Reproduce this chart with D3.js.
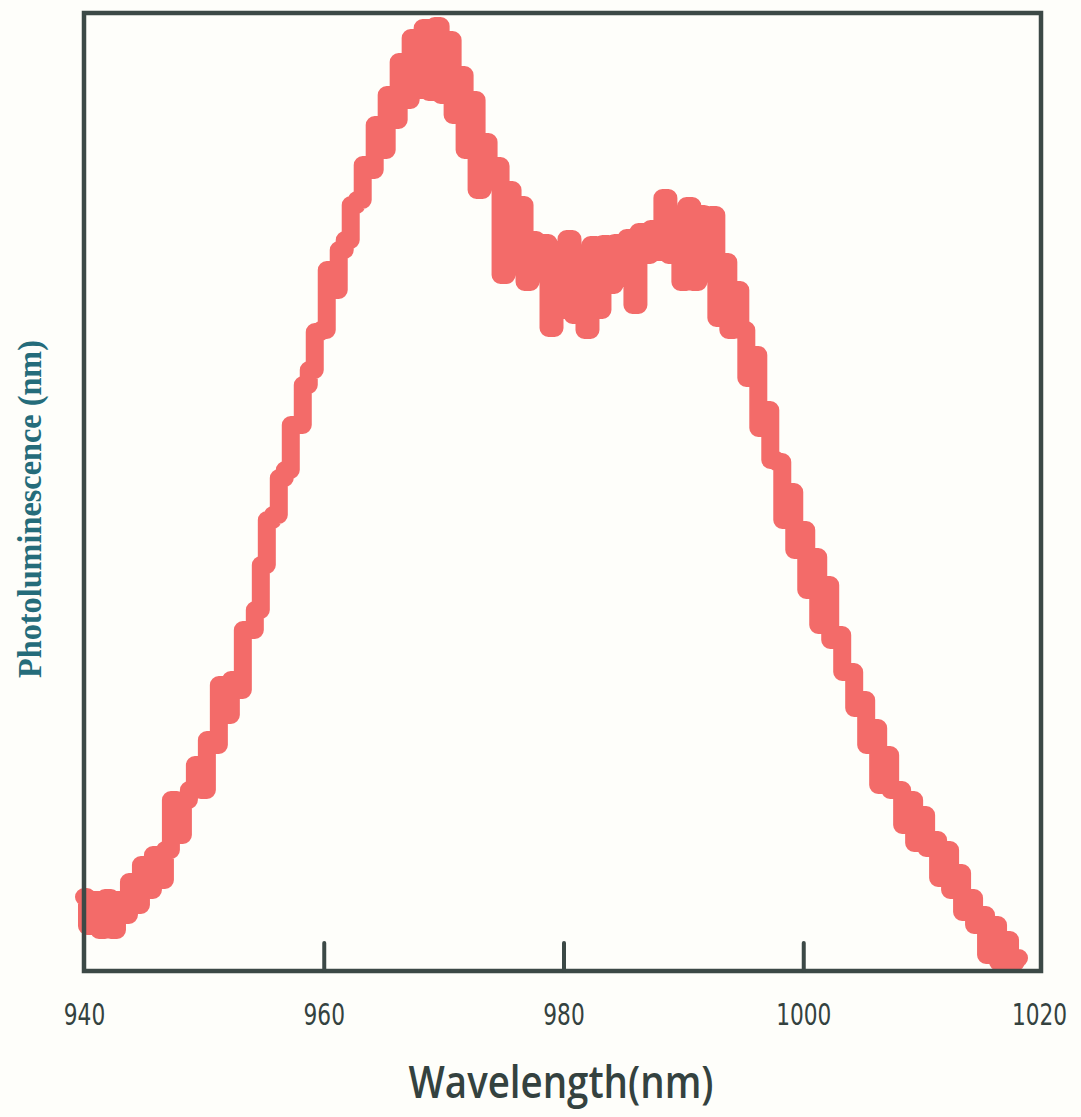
<!DOCTYPE html>
<html>
<head>
<meta charset="utf-8">
<script src="https://cdn.jsdelivr.net/npm/d3@7"></script>
<style>
  html, body { margin: 0; padding: 0; background: #fefefa; }
  svg { display: block; }
</style>
</head>
<body>
<svg id="chart" width="1081" height="1117"></svg>
<script>
const startNm = 940;
const stepNm = 0.5;
const intensity = [
  71, 42, 68, 38, 70, 38, 68, 53, 86, 63,
  103, 78, 113, 88, 118, 168, 133, 168, 178, 203,
  178, 228, 223, 283, 253, 288, 278, 338, 338, 358,
  403, 448, 453, 490, 498, 543, 543, 583, 598, 636,
  638, 698, 678, 718, 728, 763, 768, 803, 798, 843,
  818, 873, 848, 906, 868, 930, 878, 940, 876, 942,
  873, 928, 853, 893, 818, 868, 778, 826, 788, 802,
  693, 778, 743, 763, 686, 728, 708, 725, 640, 718,
  658, 729, 653, 713, 638, 723, 658, 724, 683, 725,
  690, 730, 663, 736, 713, 739, 716, 770, 713, 746,
  686, 762, 686, 754, 700, 753, 650, 706, 638, 678,
  638, 590, 613, 540, 558, 508, 506, 448, 476, 418,
  438, 378, 411, 343, 383, 328, 333, 296, 296, 260,
  268, 223, 240, 183, 213, 178, 178, 143, 168, 125,
  153, 120, 128, 90, 118, 78, 95, 56, 70, 43,
  53, 13, 43, 6, 28, 6, 10
];
const wavelength = intensity.map((d, i) => startNm + i * stepNm);

const xTicks = [940, 960, 980, 1000, 1020];
const xDomain = [940, 1020];
const yDomain = [-3, 955];

const margin = { top: 13, left: 84 };
const width = 957;
const height = 958;

const svg = d3.select('#chart');
svg.append('rect').attr('width', 1081).attr('height', 1117).attr('fill', '#fefefa');

const g = svg.append('g').attr('transform', `translate(${margin.left},${margin.top})`);

const x = d3.scaleLinear().domain(xDomain).range([0, width + 2]);
const y = d3.scaleLinear().domain(yDomain).range([height, 0]);

// spectrum, drawn as a thick noisy trace
const line = d3.line()
  .x((d, i) => x(wavelength[i]))
  .y(d => y(d))
  .curve(d3.curveStep);

g.append('path')
  .datum(intensity)
  .attr('d', line)
  .attr('fill', 'none')
  .attr('stroke', '#f36b69')
  .attr('stroke-width', 18)
  .attr('stroke-linejoin', 'round')
  .attr('stroke-linecap', 'round');

// frame
g.append('rect')
  .attr('x', 0).attr('y', 0)
  .attr('width', width).attr('height', height)
  .attr('fill', 'none')
  .attr('stroke', '#3c4946')
  .attr('stroke-width', 4.5);

// x axis: inward ticks, labels below
const xAxis = g.append('g')
  .attr('transform', `translate(0,${height})`)
  .call(d3.axisBottom(x).tickValues(xTicks).tickFormat(d3.format('d'))
    .tickSizeInner(-28).tickSizeOuter(0));

xAxis.select('.domain').remove();
xAxis.selectAll('.tick line')
  .attr('stroke', '#3c4946')
  .attr('stroke-width', 4)
  .attr('stroke-linecap', 'round')
  .filter(d => d === 940 || d === 1020).remove();
xAxis.selectAll('.tick text')
  .attr('x', d => d === 1020 ? -4 : 0)
  .attr('y', 54)
  .attr('dy', 0)
  .attr('fill', '#34423f')
  .attr('textLength', d => String(d).length * 13.8)
  .attr('lengthAdjust', 'spacingAndGlyphs')
  .style('font-family', '"DejaVu Sans Condensed", "DejaVu Sans", sans-serif')
  .style('font-size', '30px');

// axis titles
svg.append('text')
  .attr('x', 561)
  .attr('y', 1098)
  .attr('text-anchor', 'middle')
  .attr('textLength', 305)
  .attr('lengthAdjust', 'spacingAndGlyphs')
  .attr('fill', '#34423f')
  .style('font-family', '"Open Sans", "DejaVu Sans", sans-serif')
  .style('font-weight', 600)
  .style('font-size', '45px')
  .text('Wavelength(nm)');

svg.append('text')
  .attr('transform', 'translate(41,509) rotate(-90)')
  .attr('text-anchor', 'middle')
  .attr('textLength', 338)
  .attr('lengthAdjust', 'spacingAndGlyphs')
  .attr('fill', '#256c7a')
  .style('font-family', '"Liberation Serif", "DejaVu Serif", serif')
  .style('font-weight', 'bold')
  .style('font-size', '34px')
  .text('Photoluminescence (nm)');
</script>
</body>
</html>
